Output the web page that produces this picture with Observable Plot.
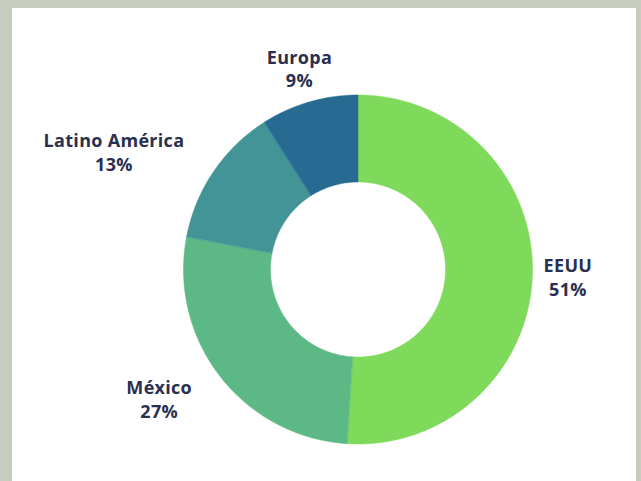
<!DOCTYPE html>
<html><head><meta charset="utf-8">
<script src="https://cdn.jsdelivr.net/npm/d3@7"></script>
<script src="https://cdn.jsdelivr.net/npm/@observablehq/plot@0.6"></script>
<style>
html,body{margin:0;padding:0;width:641px;height:481px;overflow:hidden;background:#c6ccbe;}
#panel{position:absolute;left:12px;top:8px;width:624px;height:473px;background:#fff;}
#chart{position:absolute;left:0;top:0;}
#chart svg text{letter-spacing:0.3px;}
</style></head><body><div id="panel"></div><div id="chart"></div>
<script>
const regions = ["EEUU", "México", "Latino América", "Europa"];
const shares = [51, 27, 13, 9];
const colors = ["#7fd95a", "#5cb985", "#429497", "#276a92"];

const outerR = 174.5, innerR = 87.5, labelR = 210;
const fontSize = 18, fontFamily = "'Open Sans', sans-serif";
const arcs = d3.pie().sort(null).value(d => d)(shares);

function arcPolygon(a) {
  const pts = [];
  const n = Math.max(8, Math.ceil((a.endAngle - a.startAngle) * 180 / Math.PI));
  for (let i = 0; i <= n; i++) {
    const t = a.startAngle + (a.endAngle - a.startAngle) * i / n;
    pts.push({x: outerR * Math.sin(t), y: outerR * Math.cos(t)});
  }
  for (let i = n; i >= 0; i--) {
    const t = a.startAngle + (a.endAngle - a.startAngle) * i / n;
    pts.push({x: innerR * Math.sin(t), y: innerR * Math.cos(t)});
  }
  return pts;
}

const ctx = document.createElement("canvas").getContext("2d");
ctx.font = `700 ${fontSize}px ${fontFamily}`;
function blockWidth(lines) {
  return d3.max(lines, l => ctx.measureText(l).width + 0.3 * l.length);
}

const labels = arcs.map((a, i) => {
  const m = (a.startAngle + a.endAngle) / 2;
  const s = Math.sin(m);
  const lines = [regions[i], `${shares[i]}%`];
  const shift = s < -0.5 ? -blockWidth(lines) / 2 : 0;
  return {x: labelR * s + shift, y: labelR * Math.cos(m), text: lines.join("\n")};
});

const chart = Plot.plot({
  width: 641, height: 481, margin: 0,
  x: {domain: [-357.5, 283.5], axis: null},
  y: {domain: [-212, 269], axis: null},
  style: {background: "transparent", overflow: "visible"},
  marks: [
    ...arcs.map((a, i) => Plot.line(arcPolygon(a), {x: "x", y: "y", fill: colors[i], stroke: colors[i], strokeWidth: 0.5, curve: "linear-closed"})),
    Plot.text(labels, {x: "x", y: "y", text: "text", fontSize, fontWeight: 700,
      fill: "#2b2f4f", lineHeight: 1.33, fontFamily, textAnchor: "middle"})
  ]
});
document.getElementById("chart").appendChild(chart);
</script></body></html>
